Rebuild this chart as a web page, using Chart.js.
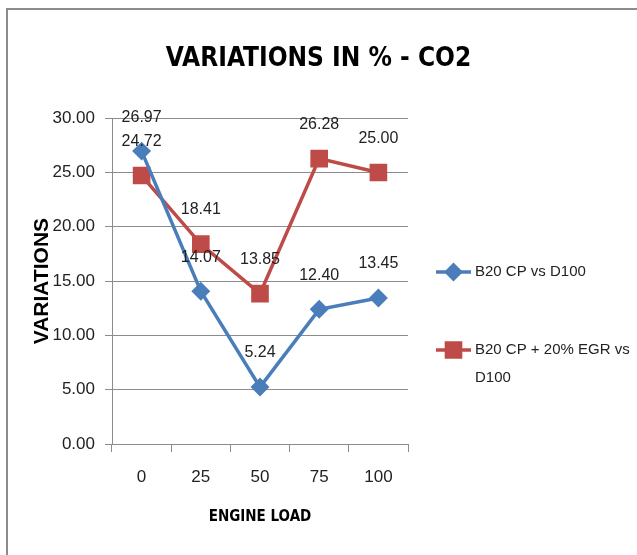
<!DOCTYPE html>
<html>
<head>
<meta charset="utf-8">
<script src="https://cdn.jsdelivr.net/npm/chart.js@4.4.1/dist/chart.umd.min.js"></script>
<style>
  html, body { margin: 0; padding: 0; background: #fff; }
  #wrap { position: relative; width: 637px; height: 555px; overflow: hidden; }
  #frame {
    position: absolute; left: 6px; top: 8px; width: 640px; height: 560px;
    border-top: 2px solid #8c8c8c; border-left: 2px solid #8c8c8c;
    pointer-events: none;
  }
</style>
</head>
<body>
<div id="wrap">
  <canvas id="chart" width="637" height="555"></canvas>
  <div id="frame"></div>
</div>
<script>
// data
const engineLoad = ['0', '25', '50', '75', '100'];
const b20cp = [26.97, 14.07, 5.24, 12.40, 13.45];
const b20cpEgr = [24.72, 18.41, 13.85, 26.28, 25.00];
const seriesNames = ['B20 CP vs D100', ['B20 CP + 20% EGR vs', 'D100']];

const SANS = "'Liberation Sans', Arial, sans-serif";
const COND = "'DejaVu Sans Condensed', 'Liberation Sans', sans-serif";
const BLUE = '#4a7ebb';
const RED = '#be4b48';
const GRID = '#8c8c8c';

// value labels above each point
const pointLabels = {
  id: 'pointLabels',
  afterDatasetsDraw(chart) {
    const ctx = chart.ctx;
    ctx.save();
    ctx.font = '16px ' + SANS;
    ctx.fillStyle = '#222';
    ctx.textAlign = 'center';
    ctx.textBaseline = 'middle';
    chart.data.datasets.forEach((ds, i) => {
      chart.getDatasetMeta(i).data.forEach((pt, j) => {
        ctx.fillText(ds.data[j].toFixed(2), pt.x, pt.y - 34);
      });
    });
    ctx.restore();
  }
};

// legend on the right, line + marker like the spreadsheet
const sideLegend = {
  id: 'sideLegend',
  afterDraw(chart) {
    const ctx = chart.ctx;
    const rows = [272, 350];
    ctx.save();
    chart.data.datasets.forEach((ds, i) => {
      const y = rows[i];
      ctx.strokeStyle = ds.borderColor;
      ctx.lineWidth = ds.borderWidth;
      ctx.beginPath();
      ctx.moveTo(436, y);
      ctx.lineTo(471, y);
      ctx.stroke();
      Chart.helpers.drawPoint(ctx, {
        pointStyle: ds.pointStyle,
        radius: ds.pointRadius,
        borderWidth: 1
      }, 453.5, y);
      ctx.fillStyle = ds.pointBackgroundColor;
      ctx.fill();
      ctx.fillStyle = '#222';
      ctx.font = '15px ' + SANS;
      ctx.textAlign = 'left';
      ctx.textBaseline = 'middle';
      const lines = [].concat(seriesNames[i]);
      lines.forEach((t, k) => ctx.fillText(t, 475, y + k * 28));
    });
    ctx.restore();
  }
};

new Chart(document.getElementById('chart'), {
  type: 'line',
  data: {
    labels: engineLoad,
    datasets: [
      {
        label: 'B20 CP vs D100',
        data: b20cp,
        borderColor: BLUE,
        backgroundColor: BLUE,
        pointBackgroundColor: BLUE,
        pointBorderColor: BLUE,
        borderWidth: 3.5,
        pointStyle: 'rectRot',
        pointRadius: 7,
        tension: 0
      },
      {
        label: 'B20 CP + 20% EGR vs D100',
        data: b20cpEgr,
        borderColor: RED,
        backgroundColor: RED,
        pointBackgroundColor: RED,
        pointBorderColor: RED,
        borderWidth: 3.5,
        pointStyle: 'rect',
        pointRadius: 10,
        tension: 0
      }
    ]
  },
  options: {
    responsive: false,
    animation: false,
    layout: { padding: 0 },
    plugins: {
      legend: { display: false },
      tooltip: { enabled: false },
      title: {
        display: true,
        text: 'VARIATIONS IN % - CO2',
        color: '#000',
        font: { family: COND, size: 26, weight: 'bold', lineHeight: 1.2 },
        padding: { top: 44, bottom: 43 }
      }
    },
    scales: {
      x: {
        offset: true,
        grid: { drawOnChartArea: false, offset: true, tickLength: 8, color: GRID },
        border: { color: GRID },
        ticks: { color: '#222', padding: 15, font: { family: SANS, size: 17 } },
        title: {
          display: true,
          text: 'ENGINE LOAD',
          color: '#000',
          font: { family: COND, size: 15, weight: 'bold', lineHeight: 1.2 },
          padding: { top: 0, bottom: 29 }
        },
        afterFit(scale) { scale.height = 111; }
      },
      y: {
        min: 0,
        max: 30,
        ticks: {
          stepSize: 5,
          color: '#222',
          padding: 10,
          font: { family: SANS, size: 17 },
          callback: (v) => v.toFixed(2)
        },
        grid: { color: GRID, tickLength: 7 },
        border: { color: GRID },
        title: {
          display: true,
          text: 'VARIATIONS',
          color: '#000',
          font: { family: SANS, size: 21, weight: 'bold', lineHeight: 1.2 },
          padding: { top: 30, bottom: 0 }
        },
        afterFit(scale) { scale.width = 112; }
      },
      legendSpace: {
        type: 'linear',
        position: 'right',
        display: true,
        ticks: { display: false },
        grid: { display: false },
        border: { display: false },
        afterFit(scale) { scale.width = 229; }
      }
    }
  },
  plugins: [pointLabels, sideLegend]
});
</script>
</body>
</html>
